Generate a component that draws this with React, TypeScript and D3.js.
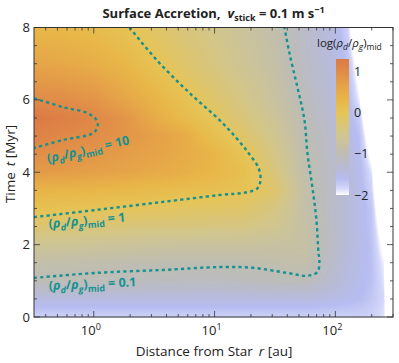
import React, { useEffect, useState } from 'react';
import * as d3 from 'd3';

// grid of log10(rho_d/rho_g)_mid
const LOG_R = [-0.5, -0.25, 0, 0.25, 0.5, 0.75, 1, 1.25, 1.5, 1.75, 2, 2.1, 2.2, 2.3, 2.4, 2.48];
const TIMES = [0, 0.5, 1, 1.5, 2, 2.5, 3, 3.5, 4, 4.5, 5, 5.5, 6, 7, 8];
const LOG_RATIO = [
  [-1.8, -1.8, -1.8, -1.8, -1.8, -1.8, -1.8, -1.8, -1.8, -1.8, -1.8, -1.8, -1.8, -1.8, -1.9, -2.5],
  [-1.45, -1.45, -1.45, -1.45, -1.45, -1.45, -1.45, -1.45, -1.45, -1.45, -1.5, -1.55, -1.6, -1.7, -1.85, -2.8],
  [-1.03, -1.05, -1.07, -1.1, -1.12, -1.14, -1.15, -1.12, -1.08, -1.05, -1.35, -1.45, -1.55, -1.65, -1.9, -3],
  [-0.88, -0.9, -0.92, -0.95, -0.97, -0.98, -0.98, -0.96, -0.92, -0.88, -1.3, -1.42, -1.52, -1.65, -1.95, -3],
  [-0.6, -0.62, -0.65, -0.68, -0.7, -0.72, -0.73, -0.74, -0.76, -0.8, -1.25, -1.38, -1.5, -1.65, -2.1, -3],
  [-0.25, -0.28, -0.3, -0.33, -0.36, -0.38, -0.4, -0.42, -0.55, -0.82, -1.25, -1.38, -1.5, -1.68, -2.25, -3],
  [0.08, 0.05, 0.02, -0.02, -0.06, -0.1, -0.14, -0.18, -0.4, -0.85, -1.25, -1.38, -1.5, -1.7, -2.5, -3],
  [0.35, 0.33, 0.3, 0.25, 0.2, 0.15, 0.1, 0.02, -0.2, -0.87, -1.25, -1.38, -1.52, -1.8, -2.8, -3],
  [0.75, 0.72, 0.68, 0.6, 0.52, 0.42, 0.3, 0.12, -0.35, -0.93, -1.25, -1.4, -1.55, -1.9, -3, -3],
  [0.95, 0.9, 0.82, 0.72, 0.62, 0.5, 0.32, 0.0, -0.45, -0.95, -1.28, -1.42, -1.6, -2.1, -3, -3],
  [1.15, 1.03, 0.98, 0.85, 0.68, 0.5, 0.12, -0.2, -0.55, -1.0, -1.3, -1.45, -1.65, -2.3, -3, -3],
  [1.3, 1.2, 1.05, 0.85, 0.5, 0.2, -0.06, -0.35, -0.65, -1.05, -1.35, -1.5, -1.75, -2.6, -3, -3],
  [1.0, 0.95, 0.85, 0.6, 0.35, 0.08, -0.2, -0.45, -0.75, -1.1, -1.4, -1.55, -1.95, -3, -3, -3],
  [0.6, 0.55, 0.45, 0.3, 0.05, -0.2, -0.4, -0.62, -0.85, -1.2, -1.45, -1.65, -2.2, -3, -3, -3],
  [0.3, 0.25, 0.18, 0.05, -0.15, -0.35, -0.5, -0.7, -0.9, -1.25, -1.5, -1.8, -2.6, -3, -3, -3],
];

const CMAP_VALUES = [-2, -1.85, -1.6, -1.3, -1, -0.5, 0, 0.3, 0.6, 1, 1.3];
const CMAP_COLORS = ['#ffffff', '#d4d8fa', '#b6bcf0', '#b9bbcf', '#bebdb4', '#d2c68c', '#e6c457', '#e8b748', '#e6a548', '#e08b48', '#dc7a45'];
const CBAR_TICKS = [1, 0, -1, -2];

// contour lines [r (au), t (Myr)]
const CONTOUR_01: [number, number][] = [
  [0.32, 1.08], [1.06, 1.22], [3.72, 1.3], [11.0, 1.38], [20.6, 1.36], [39.4, 1.22], [58.7, 1.14],
  [71.0, 1.24], [73.8, 1.57], [72.5, 1.77], [69.7, 2.68], [64.5, 3.59], [58.7, 4.53], [55.5, 5.44],
  [48.5, 6.35], [41.7, 7.29], [37.9, 8.0],
];
const CONTOUR_1: [number, number][] = [
  [0.32, 2.76], [1.06, 2.96], [3.72, 3.18], [11.0, 3.37], [18.7, 3.45], [22.7, 3.56], [24.0, 3.78],
  [23.1, 4.12], [19.1, 4.53], [15.2, 4.94], [11.0, 5.44], [6.21, 6.19], [3.32, 7.1], [1.98, 8.0],
];
const CONTOUR_10: [number, number][] = [
  [0.32, 6.05], [0.554, 5.8], [0.875, 5.64], [1.04, 5.47], [1.08, 5.28], [0.98, 5.08], [0.554, 4.89], [0.32, 4.67],
];

const X_MAJOR = [1, 10, 100];
const Y_TICKS = [0, 2, 4, 6, 8];

const W = 399, H = 363;
const M = { left: 34, right: 393, top: 27.5, bottom: 317 };
const TEAL = '#15928f';
const FONT = '"Open Sans", Lato, sans-serif';

const x = d3.scaleLog().domain([0.32, 300]).range([M.left, M.right]);
const y = d3.scaleLinear().domain([0, 8]).range([M.bottom, M.top]);
const color = d3.scaleLinear<string>().domain(CMAP_VALUES).range(CMAP_COLORS).interpolate(d3.interpolateRgb).clamp(true);

function sampleField(lr: number, t: number) {
  const i = Math.max(0, Math.min(LOG_R.length - 2, d3.bisectRight(LOG_R, lr) - 1));
  const j = Math.max(0, Math.min(TIMES.length - 2, d3.bisectRight(TIMES, t) - 1));
  const fx = Math.max(0, Math.min(1, (lr - LOG_R[i]) / (LOG_R[i + 1] - LOG_R[i])));
  const fy = Math.max(0, Math.min(1, (t - TIMES[j]) / (TIMES[j + 1] - TIMES[j])));
  const a = LOG_RATIO[j][i], b = LOG_RATIO[j][i + 1];
  const c = LOG_RATIO[j + 1][i], d = LOG_RATIO[j + 1][i + 1];
  return (a * (1 - fx) + b * fx) * (1 - fy) + (c * (1 - fx) + d * fx) * fy;
}

const RhoLabel = ({ size, value }: { size: number; value?: string }) => {
  const sub = size * 0.72;
  const dy = size * 0.3;
  return (
    <>
      <tspan>(</tspan>
      <tspan fontStyle="italic">ρ</tspan>
      <tspan fontStyle="italic" fontSize={sub} dy={dy}>d</tspan>
      <tspan dy={-dy}>/</tspan>
      <tspan fontStyle="italic">ρ</tspan>
      <tspan fontStyle="italic" fontSize={sub} dy={dy}>g</tspan>
      <tspan dy={-dy}>)</tspan>
      <tspan fontSize={sub} dy={dy}>mid</tspan>
      {value !== undefined && <tspan dy={-dy}>{` = ${value}`}</tspan>}
    </>
  );
};

export default function App() {
  const [href, setHref] = useState('');

  useEffect(() => {
    const w = Math.round(M.right - M.left);
    const h = Math.round(M.bottom - M.top);
    const canvas = document.createElement('canvas');
    canvas.width = w;
    canvas.height = h;
    const ctx = canvas.getContext('2d');
    if (!ctx) return;
    const img = ctx.createImageData(w, h);
    for (let py = 0; py < h; py++) {
      const t = y.invert(M.top + py + 0.5);
      for (let px = 0; px < w; px++) {
        const lr = Math.log10(x.invert(M.left + px + 0.5));
        const c = d3.rgb(color(sampleField(lr, t)));
        const k = (py * w + px) * 4;
        img.data[k] = c.r;
        img.data[k + 1] = c.g;
        img.data[k + 2] = c.b;
        img.data[k + 3] = 255;
      }
    }
    ctx.putImageData(img, 0, 0);
    setHref(canvas.toDataURL());
  }, []);

  const line = d3.line<[number, number]>()
    .x(d => x(d[0]))
    .y(d => y(d[1]))
    .curve(d3.curveCatmullRom.alpha(0.5));

  const minorX: number[] = [];
  for (let e = -1; e <= 2; e++) {
    for (let k = 2; k <= 9; k++) {
      const v = k * Math.pow(10, e);
      if (v >= 0.32 && v <= 300) minorX.push(v);
    }
  }
  const minorY = d3.range(0, 8.01, 0.5).filter(v => v % 2 !== 0);

  const cb = { x: 336, w: 13, top: 59, bottom: 195 };
  const cbScale = d3.scaleLinear().domain([-2, 1.3]).range([cb.bottom, cb.top]);
  const gradStops = d3.range(0, 1.0001, 0.02).map(f => ({ f, c: color(-2 + f * 3.3) }));

  return (
    <svg width={W} height={H} style={{ position: 'absolute', left: 0, top: 0, background: '#fff' }} fontFamily={FONT}>
      <defs>
        <clipPath id="plot-clip">
          <rect x={M.left} y={M.top} width={M.right - M.left} height={M.bottom - M.top} />
        </clipPath>
        <linearGradient id="cbar" x1="0" y1="1" x2="0" y2="0">
          {gradStops.map(s => <stop key={s.f} offset={s.f} stopColor={s.c} />)}
        </linearGradient>
      </defs>

      <text x={(M.left + M.right) / 2} y={18} textAnchor="middle" fontSize={13} fontWeight={700} fill="#222">
        <tspan>Surface Accretion,</tspan>
        <tspan fontStyle="italic" dx={7}>v</tspan>
        <tspan fontSize={9} dy={3}>stick</tspan>
        <tspan dy={-3}> = 0.1 m s</tspan>
        <tspan fontSize={9} dy={-5}>−1</tspan>
      </text>

      {href && (
        <image href={href} x={M.left} y={M.top} width={Math.round(M.right - M.left)} height={Math.round(M.bottom - M.top)} preserveAspectRatio="none" />
      )}

      <g clipPath="url(#plot-clip)" fill="none" stroke={TEAL} strokeWidth={2.4} strokeDasharray="3.2 3.2">
        <path d={line(CONTOUR_01) || ''} />
        <path d={line(CONTOUR_1) || ''} />
        <path d={line(CONTOUR_10) || ''} />
      </g>

      <g fill={TEAL} fontWeight={700} fontSize={12.5}>
        <text transform="translate(48,163) rotate(-13)"><RhoLabel size={12.5} value="10" /></text>
        <text transform="translate(49,228) rotate(-5)"><RhoLabel size={12.5} value="1" /></text>
        <text transform="translate(49,290) rotate(-2.5)"><RhoLabel size={12.5} value="0.1" /></text>
      </g>

      {/* colorbar */}
      <rect x={cb.x} y={cb.top} width={cb.w} height={cb.bottom - cb.top} fill="url(#cbar)" />
      {CBAR_TICKS.map(v => (
        <text key={v} x={cb.x + cb.w + 5} y={cbScale(v) + 4.5} fontSize={12.5} fill="#222">
          {v < 0 ? `−${-v}` : `${v}`}
        </text>
      ))}
      <text x={317} y={47} fontSize={11.5} fill="#222">
        <tspan>log(</tspan>
        <tspan fontStyle="italic">ρ</tspan>
        <tspan fontStyle="italic" fontSize={8.5} dy={2.5}>d</tspan>
        <tspan dy={-2.5}>/</tspan>
        <tspan fontStyle="italic">ρ</tspan>
        <tspan fontStyle="italic" fontSize={8.5} dy={2.5}>g</tspan>
        <tspan dy={-2.5}>)</tspan>
        <tspan fontSize={8.5} dy={2.5}>mid</tspan>
      </text>

      {/* ticks */}
      <g stroke="#333" strokeWidth={0.8}>
        {X_MAJOR.map(v => (
          <g key={`xM${v}`}>
            <line x1={x(v)} x2={x(v)} y1={M.bottom} y2={M.bottom - 6} />
            <line x1={x(v)} x2={x(v)} y1={M.top} y2={M.top + 6} />
          </g>
        ))}
        {minorX.map(v => (
          <g key={`xm${v}`}>
            <line x1={x(v)} x2={x(v)} y1={M.bottom} y2={M.bottom - 3} />
            <line x1={x(v)} x2={x(v)} y1={M.top} y2={M.top + 3} />
          </g>
        ))}
        {Y_TICKS.map(v => (
          <g key={`yM${v}`}>
            <line x1={M.left} x2={M.left + 6} y1={y(v)} y2={y(v)} />
            <line x1={M.right} x2={M.right - 6} y1={y(v)} y2={y(v)} />
          </g>
        ))}
        {minorY.map(v => (
          <g key={`ym${v}`}>
            <line x1={M.left} x2={M.left + 3} y1={y(v)} y2={y(v)} />
            <line x1={M.right} x2={M.right - 3} y1={y(v)} y2={y(v)} />
          </g>
        ))}
      </g>
      <rect x={M.left} y={M.top} width={M.right - M.left} height={M.bottom - M.top} fill="none" stroke="#333" strokeWidth={1} />

      {Y_TICKS.map(v => (
        <text key={`yl${v}`} x={M.left - 4} y={y(v) + 4.5} textAnchor="end" fontSize={13} fill="#222">{v}</text>
      ))}
      {X_MAJOR.map(v => (
        <text key={`xl${v}`} x={x(v) - 3} y={335} textAnchor="middle" fontSize={13} fill="#222">
          <tspan>10</tspan>
          <tspan fontSize={9} dy={-5}>{Math.round(Math.log10(v))}</tspan>
        </text>
      ))}

      <text x={214} y={356} textAnchor="middle" fontSize={13.5} fill="#222">
        <tspan>Distance from Star</tspan>
        <tspan fontStyle="italic" dx={6}>r</tspan>
        <tspan> [au]</tspan>
      </text>
      <text transform="translate(15,164) rotate(-90)" textAnchor="middle" fontSize={13.5} fill="#222">
        <tspan>Time</tspan>
        <tspan fontStyle="italic" dx={6}>t</tspan>
        <tspan> [Myr]</tspan>
      </text>
    </svg>
  );
}
